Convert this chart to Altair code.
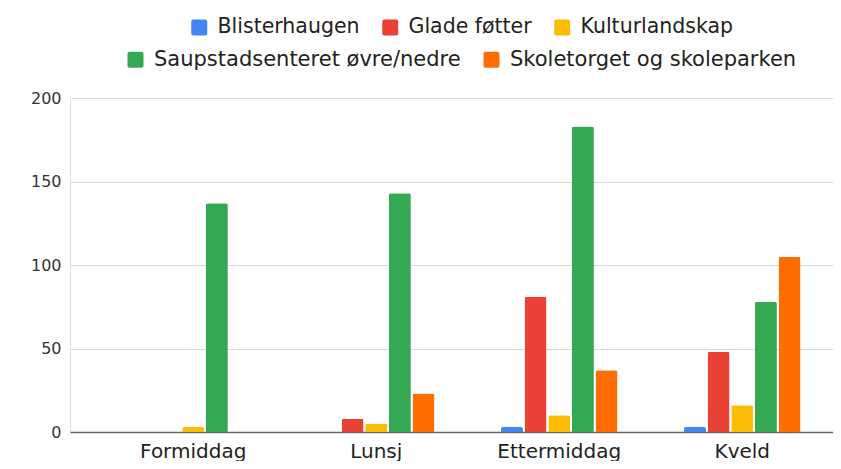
import altair as alt
import pandas as pd

categories = ["Formiddag", "Lunsj", "Ettermiddag", "Kveld"]
series_row1 = ["Blisterhaugen", "Glade føtter", "Kulturlandskap"]
series_row2 = ["Saupstadsenteret øvre/nedre", "Skoletorget og skoleparken"]
colors_row1 = ["#4285F4", "#EA4335", "#FBBC04"]
colors_row2 = ["#34A853", "#FF6D01"]

blisterhaugen = [0, 0, 3, 3]
glade_fotter = [0, 8, 81, 48]
kulturlandskap = [3, 5, 10, 16]
saupstadsenteret = [137, 143, 183, 78]
skoletorget = [0, 23, 37, 105]

y_ticks = [0, 50, 100, 150, 200]

all_series = series_row1 + series_row2
values = [blisterhaugen, glade_fotter, kulturlandskap, saupstadsenteret, skoletorget]

rows = []
for s, vals in zip(all_series, values):
    for c, v in zip(categories, vals):
        rows.append({"kategori": c, "serie": s, "antall": v})
df = pd.DataFrame(rows)

FONT = "DejaVu Sans"
symbol_path = ("M-1,-0.75 Q-1,-1 -0.75,-1 L0.75,-1 Q1,-1 1,-0.75 L1,0.75 "
               "Q1,1 0.75,1 L-0.75,1 Q-1,1 -1,0.75 Z")

x_enc = alt.X(
    "kategori:N",
    sort=categories,
    scale=alt.Scale(domain=categories, paddingInner=0.363, paddingOuter=0.266, align=0.667),
    axis=alt.Axis(title=None, labelAngle=0, labelFontSize=20, labelFont=FONT,
                  labelColor="#222222", ticks=False, labelPadding=9,
                  domainColor="#666666", domainWidth=1.5, grid=False),
)
y_enc = alt.Y(
    "antall:Q",
    scale=alt.Scale(domain=[0, 200], nice=False),
    axis=alt.Axis(title=None, values=y_ticks, grid=True, gridColor="#d9d9d9",
                  domain=False, ticks=False, labelPadding=9, labelFontSize=16,
                  labelFont=FONT, labelColor="#333333"),
)
xo_enc = alt.XOffset(
    "serie:N",
    sort=all_series,
    scale=alt.Scale(domain=all_series, paddingInner=0.07, paddingOuter=0),
)


def legend(x, y, col_pad, font_size):
    return alt.Legend(
        orient="none", legendX=x, legendY=y, direction="horizontal", title=None,
        labelFontSize=font_size, labelFont=FONT, labelColor="#222222", labelLimit=600,
        symbolType=symbol_path, symbolSize=256, symbolStrokeWidth=0,
        labelOffset=8, columnPadding=col_pad, padding=0,
    )


base = alt.Chart(df).mark_bar(cornerRadiusTopLeft=2, cornerRadiusTopRight=2)

layer1 = base.transform_filter(
    alt.FieldOneOfPredicate(field="serie", oneOf=series_row1)
).encode(
    x=x_enc, y=y_enc, xOffset=xo_enc,
    color=alt.Color("serie:N", sort=series_row1,
                    scale=alt.Scale(domain=series_row1, range=colors_row1),
                    legend=legend(119, -81, 20, 20.5)),
)

layer2 = base.transform_filter(
    alt.FieldOneOfPredicate(field="serie", oneOf=series_row2)
).encode(
    x=x_enc, y=y_enc, xOffset=xo_enc,
    color=alt.Color("serie:N", sort=series_row2,
                    scale=alt.Scale(domain=series_row2, range=colors_row2),
                    legend=legend(55, -49, 20, 21)),
)

chart = alt.layer(layer1, layer2).resolve_scale(color="independent").properties(
    width=763,
    height=334,
    autosize=alt.AutoSizeParams(type="none"),
    padding={"left": 62, "top": 90, "right": 0, "bottom": 29},
).configure_view(stroke=None).configure(background="white")

chart.save("out.html", embed_options={"renderer": "svg", "actions": False})
